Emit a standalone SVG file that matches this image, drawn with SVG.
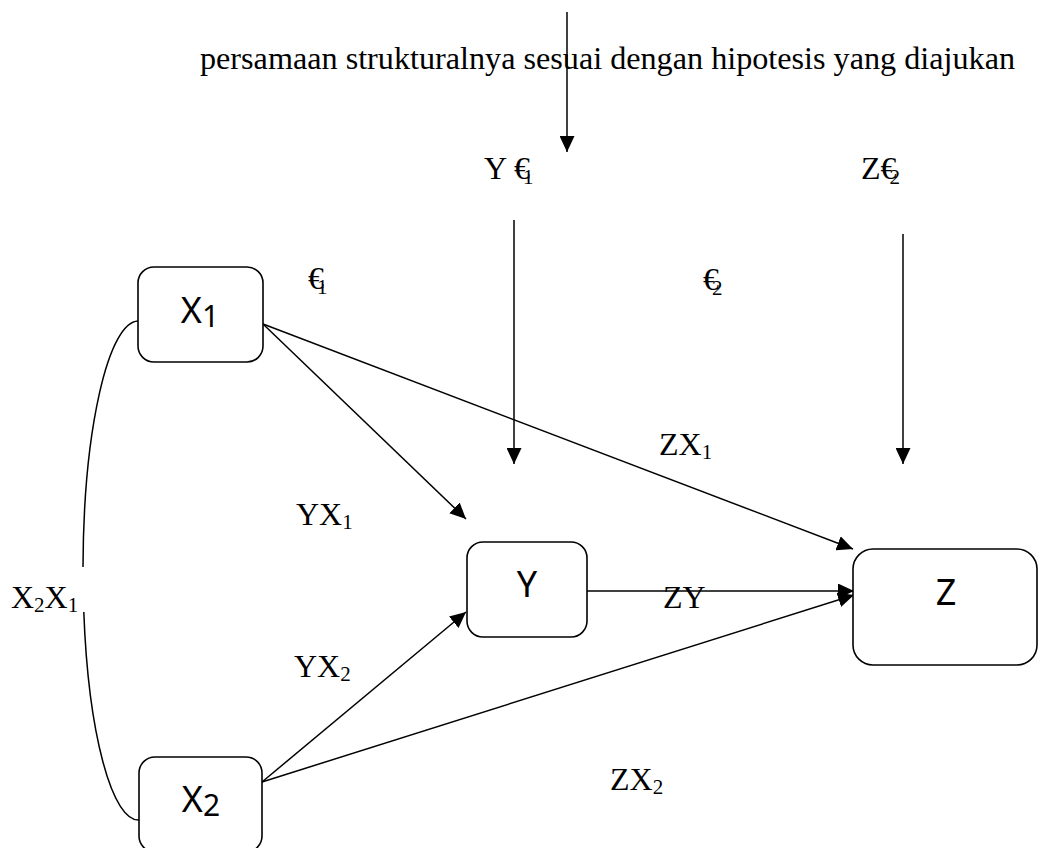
<svg xmlns="http://www.w3.org/2000/svg" width="1038" height="848" viewBox="0 0 1038 848">
<style>
.t{font-family:"Liberation Serif","Times New Roman",serif;font-size:32px;fill:#000}
.s{font-size:21px}
.n{font-family:"Noto Sans","Liberation Sans",sans-serif;font-size:36px;fill:#000;text-anchor:middle}
.ns{font-size:30px}
.box{fill:#fff;stroke:#000;stroke-width:1.6}
.ln{fill:none;stroke:#000;stroke-width:1.5}
</style>
<defs>
<marker id="ah" markerUnits="userSpaceOnUse" markerWidth="17" markerHeight="15" refX="16" refY="7.5" orient="auto">
<path d="M0,0 L16,7.5 L0,15 Z" fill="#000"/>
</marker>
</defs>
<rect width="1038" height="848" fill="#fff"/>
<g id="connectors">
<line class="ln" x1="567" y1="12" x2="567" y2="152" marker-end="url(#ah)"/>
<line class="ln" x1="514" y1="220" x2="514" y2="464" marker-end="url(#ah)"/>
<line class="ln" x1="903" y1="234" x2="903" y2="464" marker-end="url(#ah)"/>
<line class="ln" x1="263" y1="324" x2="466" y2="519" marker-end="url(#ah)"/>
<line class="ln" x1="263" y1="324" x2="853" y2="549" marker-end="url(#ah)"/>
<line class="ln" x1="587" y1="591" x2="854" y2="591" marker-end="url(#ah)"/>
<line class="ln" x1="262" y1="782" x2="466" y2="612" marker-end="url(#ah)"/>
<line class="ln" x1="262" y1="782" x2="854" y2="595" marker-end="url(#ah)"/>
<path class="ln" d="M138,321 A55.5,249.5 0 0 0 83,567"/>
<path class="ln" d="M83.8,612 A55.5,249.5 0 0 0 139,820"/>
</g>
<text class="t" x="200" y="69" textLength="815" lengthAdjust="spacingAndGlyphs">persamaan strukturalnya sesuai dengan hipotesis yang diajukan</text>
<g id="node-X1">
<rect class="box" x="138" y="267" width="125" height="95" rx="16"/>
<text class="n" x="200" y="323">X<tspan class="ns" dy="4">1</tspan></text>
</g>
<g id="node-X2">
<rect class="box" x="139" y="757" width="123" height="95" rx="16"/>
<text class="n" x="201" y="812">X<tspan class="ns" dy="4">2</tspan></text>
</g>
<g id="node-Y">
<rect class="box" x="467" y="542" width="120" height="95" rx="16"/>
<text class="n" x="527" y="597">Y</text>
</g>
<g id="node-Z">
<rect class="box" x="853" y="549" width="184" height="116" rx="20"/>
<text class="n" x="946" y="605">Z</text>
</g>
<g id="labels">
<text class="t" x="484" y="179">Y €<tspan class="s" dx="-7" dy="5">1</tspan></text>
<text class="t" x="861" y="179">Z€<tspan class="s" dx="-7" dy="5">2</tspan></text>
<text class="t" x="308" y="289">€<tspan class="s" dx="-7" dy="5">1</tspan></text>
<text class="t" x="703" y="290">€<tspan class="s" dx="-7" dy="5">2</tspan></text>
<text class="t" x="659" y="455">ZX<tspan class="s" dy="4">1</tspan></text>
<text class="t" x="296" y="525">YX<tspan class="s" dy="4">1</tspan></text>
<text class="t" x="663" y="608">ZY</text>
<text class="t" x="11" y="608">X<tspan class="s" dy="4">2</tspan><tspan dy="-4">X</tspan><tspan class="s" dy="4">1</tspan></text>
<text class="t" x="294" y="677">YX<tspan class="s" dy="4">2</tspan></text>
<text class="t" x="610" y="790">ZX<tspan class="s" dy="4">2</tspan></text>
</g>
</svg>
